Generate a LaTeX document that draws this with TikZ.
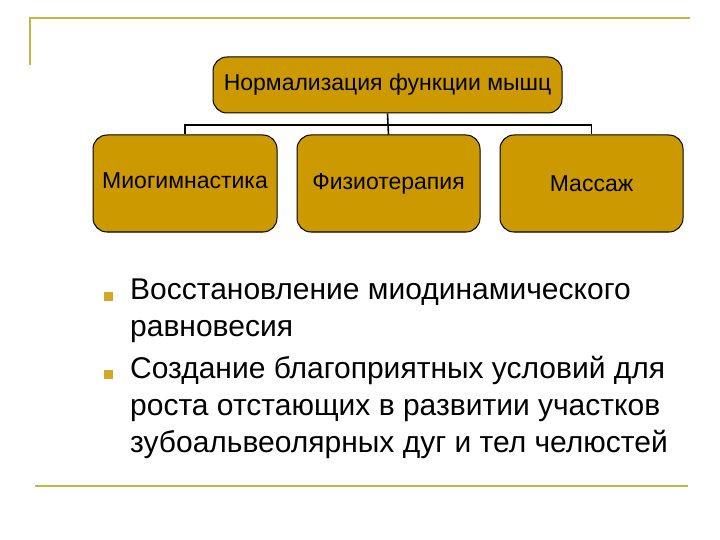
\documentclass[tikz,border=0pt]{standalone}
\usepackage{fontspec}
\setmainfont{Liberation Sans}
\definecolor{gold}{HTML}{CC9900}
\definecolor{rule}{HTML}{C8B440}
\begin{document}
\begin{tikzpicture}[x=1pt,y=-1pt,
  box/.style={draw=black,fill=gold,rounded corners=14pt,line width=1pt,font=\fontsize{23}{26}\selectfont,inner sep=0pt},
  conn/.style={line width=1.6pt},
  ln/.style={draw=rule,line width=1.5pt},
  bul/.style={fill=gold!85!white,minimum size=9pt,inner sep=0pt}]
\useasboundingbox (0,0) rectangle (720,540);
\draw[ln] (30,65) -- (30,18) -- (690,18);
\draw[ln] (35,486) -- (688,486);
\node[box,minimum width=349pt,minimum height=56pt] (top) at (387.5,85) {Нормализация функции мышц};
\node[box,minimum width=184pt,minimum height=97pt] (a) at (185,183.5) {\raisebox{6pt}{Миогимнастика}};
\node[box,minimum width=183pt,minimum height=97pt] (b) at (388.5,183.5) {Физиотерапия};
\node[box,minimum width=183pt,minimum height=97pt] (c) at (591.5,183.5) {Массаж};
\coordinate (j) at (388,125);
\draw[conn] (top.south) -- (j);
\draw[conn] (a.north) |- (j) -| (c.north);
\draw[conn] (j) -- (b.north);
\node[bul] (b1) at (108,296) {};
\node[bul] (b2) at (108,374) {};
\node[anchor=north west,align=left,font=\fontsize{30}{37}\selectfont,inner sep=0pt] (t1) at (130,279) {Восстановление миодинамического\\равновесия};
\node[anchor=north west,align=left,font=\fontsize{30}{37}\selectfont,inner sep=0pt] (t2) at (130,356) {Создание благоприятных условий для\\роста отстающих в развитии участков\\зубоальвеолярных дуг и тел челюстей};
\end{tikzpicture}
\end{document}
